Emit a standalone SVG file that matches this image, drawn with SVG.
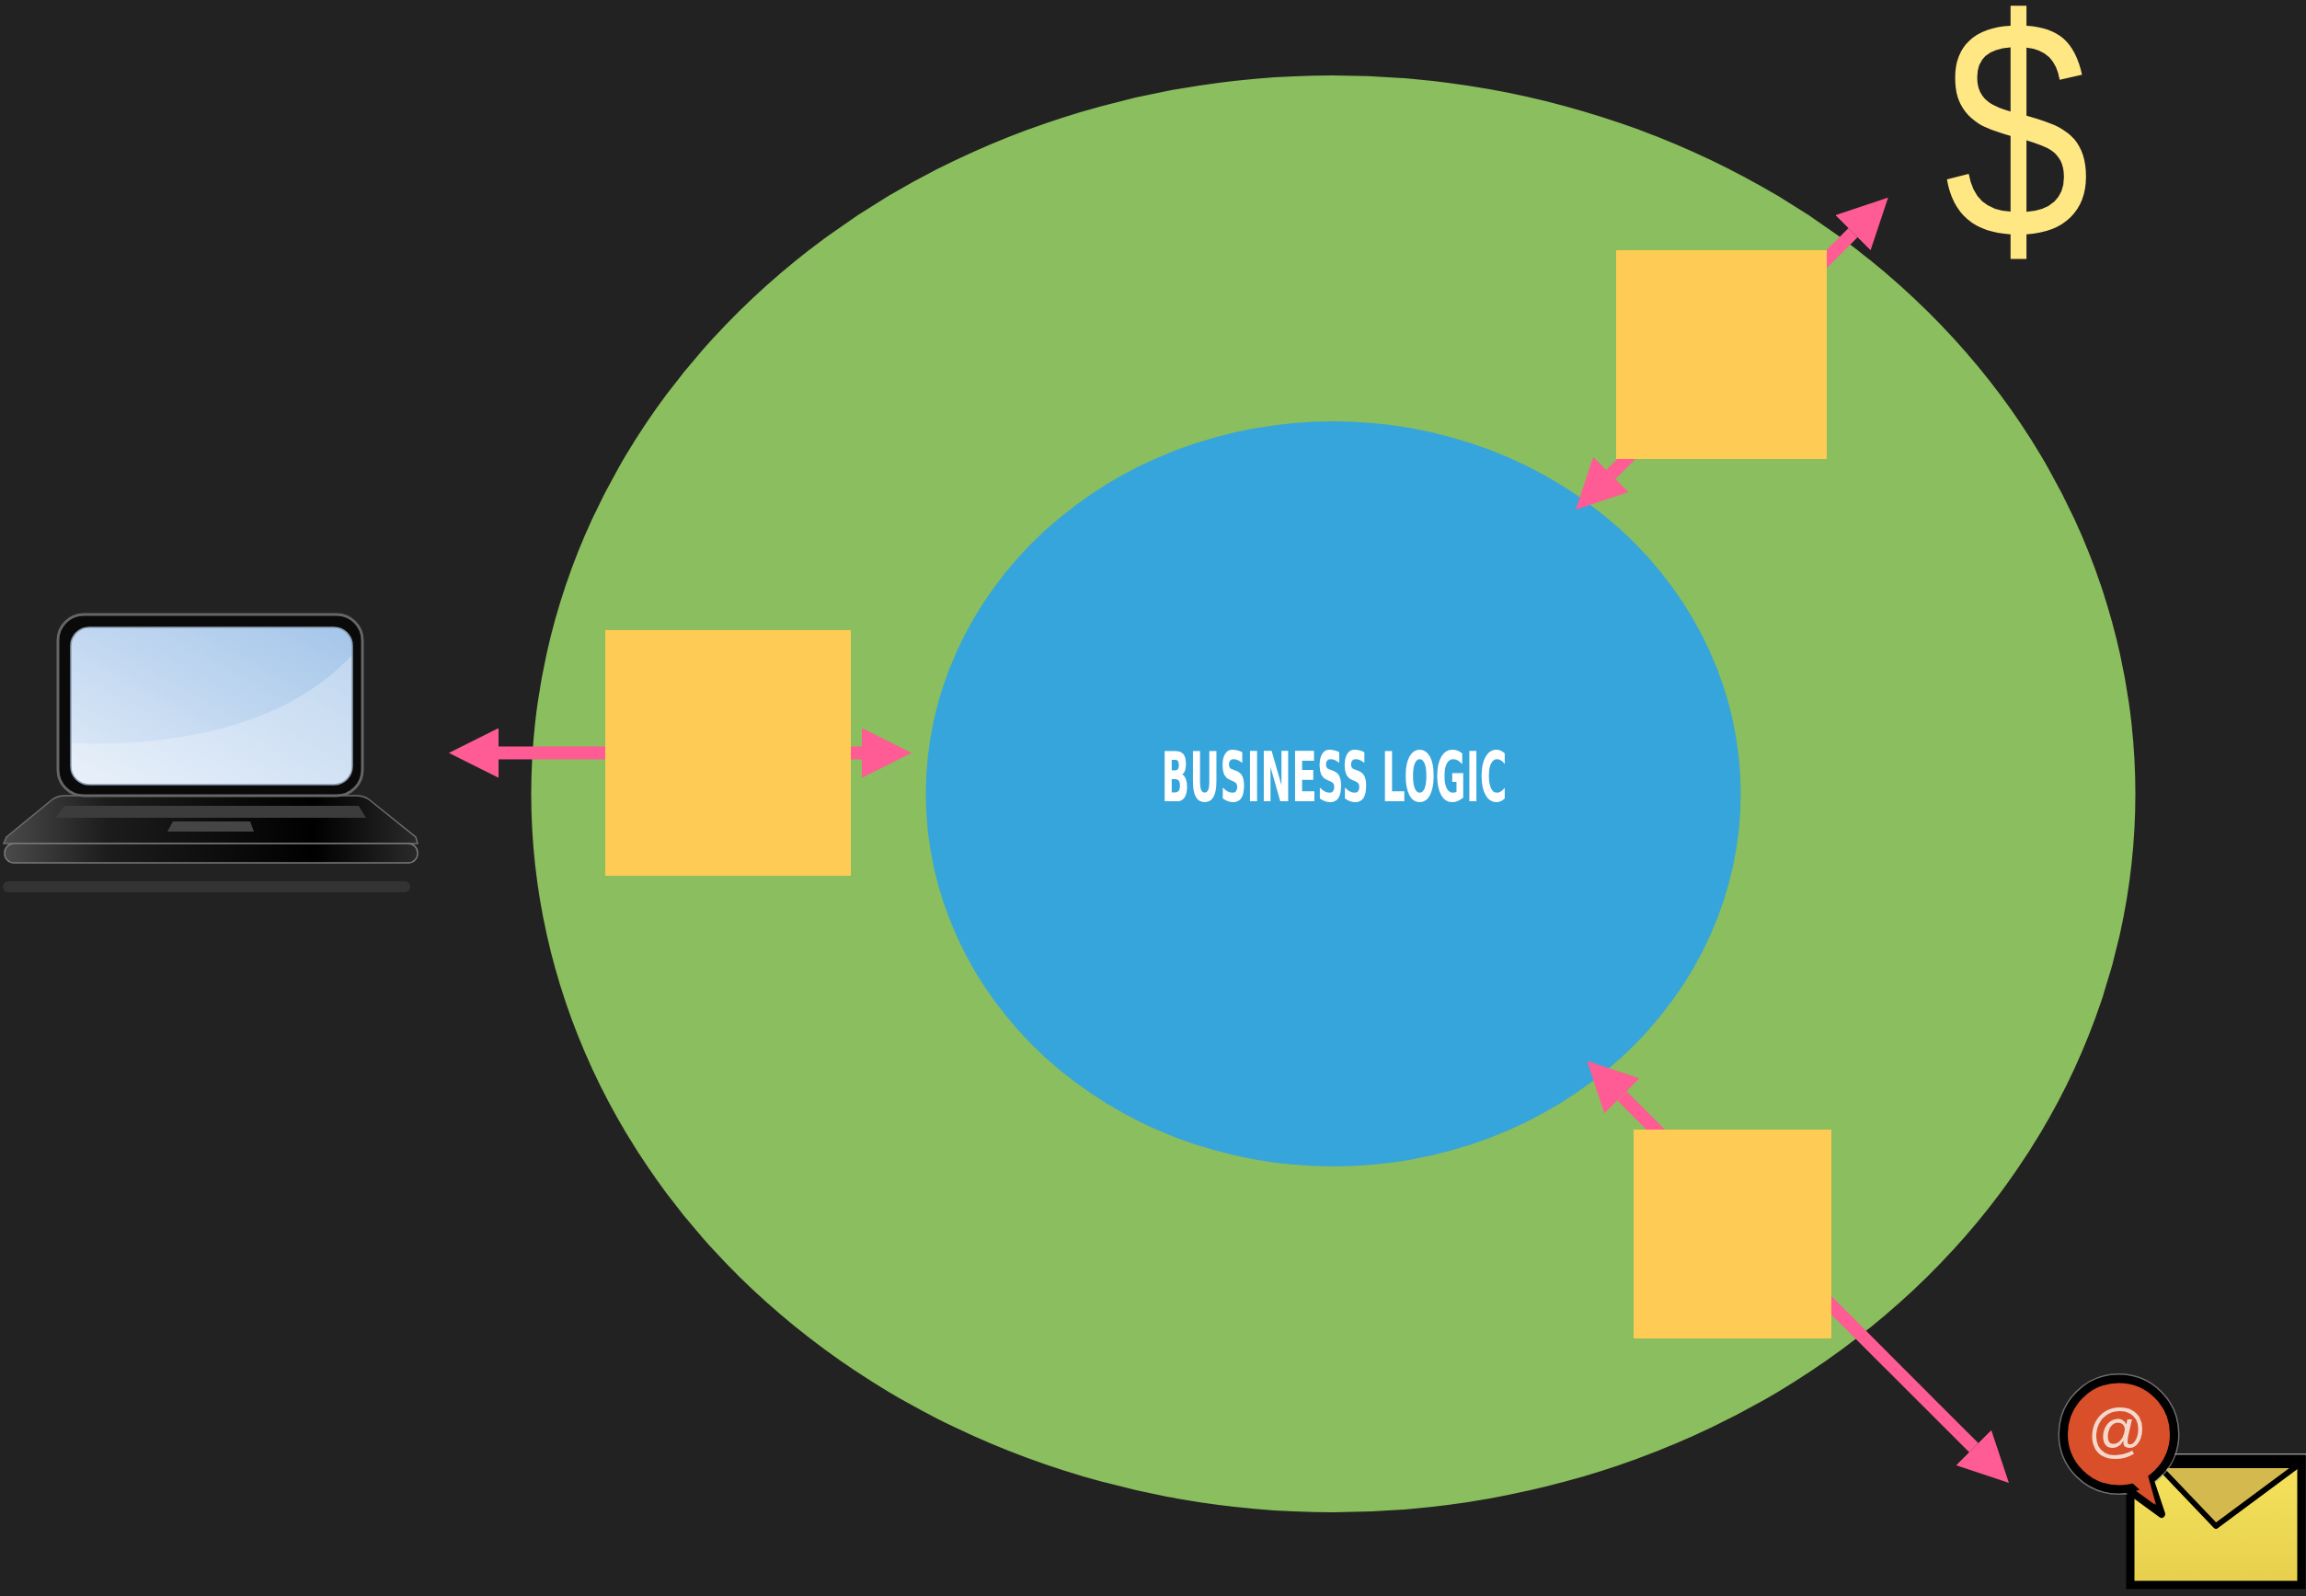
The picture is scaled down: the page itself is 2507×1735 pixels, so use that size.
<svg xmlns="http://www.w3.org/2000/svg" width="2507" height="1735" viewBox="0 0 2507 1735">
  <style>
    .outer { fill: #8bbe5e; }
    .core { fill: #36a5db; }
    .adapter { fill: #fecb55; }
    .link { fill: none; stroke: #ff5b94; stroke-width: 14; marker-start: url(#head); marker-end: url(#head); }
    .label { font-family: "DejaVu Sans Condensed", "Liberation Sans", sans-serif; font-weight: bold; fill: #ffffff; }
  </style>
  <defs>
    <marker id="head" viewBox="0 0 54 54" refX="0" refY="27" markerWidth="54" markerHeight="54" markerUnits="userSpaceOnUse" orient="auto-start-reverse">
      <path d="M0,0 L54,27 L0,54 Z" fill="#ff5b94"/>
    </marker>
    <linearGradient id="screenFill" x1="0" y1="1" x2="1" y2="0">
      <stop offset="0" stop-color="#e0ebf8"/>
      <stop offset="0.6" stop-color="#bcd4ef"/>
      <stop offset="1" stop-color="#a4c6ea"/>
    </linearGradient>
    <linearGradient id="baseFill" x1="0" y1="0" x2="1" y2="0">
      <stop offset="0" stop-color="#4a4a4a"/>
      <stop offset="0.25" stop-color="#1c1c1c"/>
      <stop offset="0.75" stop-color="#000000"/>
      <stop offset="1" stop-color="#2a2a2a"/>
    </linearGradient>
    <linearGradient id="envFill" x1="0" y1="0" x2="0" y2="1">
      <stop offset="0" stop-color="#f6e35c"/>
      <stop offset="1" stop-color="#e6cf4c"/>
    </linearGradient>
    <clipPath id="screenClip">
      <rect x="77" y="682" width="306" height="171" rx="20"/>
    </clipPath>
  </defs>

  <rect width="2507" height="1735" fill="#222222"/>

  <!-- layers -->
  <g id="infrastructure">
    <ellipse class="outer" cx="1449.5" cy="863" rx="872" ry="781"/>
  </g>
  <g id="business-logic">
    <ellipse class="core" cx="1449.5" cy="863" rx="443" ry="405"/>
    <text class="label" x="1450.5" y="871" font-size="74" text-anchor="middle" textLength="376" lengthAdjust="spacingAndGlyphs">BUSINESS LOGIC</text>
  </g>

  <!-- connectors -->
  <g id="connectors">
    <path class="link" d="M542,818.5 L937,818.5"/>
    <path class="link" d="M1751.3,515.8 L2014.5,253"/>
    <path class="link" d="M1763.5,1191.5 L2145.8,1573.8"/>
  </g>

  <!-- adapters -->
  <g id="adapter-ui">
    <rect class="adapter" x="658" y="685" width="267" height="267"/>
  </g>
  <g id="adapter-payment">
    <rect class="adapter" x="1757" y="272" width="229" height="227"/>
  </g>
  <g id="adapter-mail">
    <rect class="adapter" x="1776" y="1228" width="215" height="227"/>
  </g>

  <!-- laptop -->
  <g id="laptop">
    <rect x="3" y="958" width="443" height="12" rx="6" fill="#333333"/>
    <path d="M70,865 L388,865 Q395,865 401,869 L452,910 L454,917 L4,917 L7,910 L57,869 Q63,865 70,865 Z" fill="url(#baseFill)" stroke="#6e6e6e" stroke-width="1.5"/>
    <polygon points="70,876 390,876 398,889 60,889" fill="#3c3c3c"/>
    <polygon points="188,893 272,893 276,904 182,904" fill="#454545"/>
    <rect x="5" y="917" width="449" height="21" rx="10" fill="url(#baseFill)" stroke="#7a7a7a" stroke-width="1.5"/>
    <rect x="63" y="668" width="331" height="197" rx="28" fill="#0a0a0a" stroke="#666666" stroke-width="3"/>
    <rect x="77" y="682" width="306" height="171" rx="20" fill="url(#screenFill)"/>
    <path d="M77,808 C190,812 310,790 383,712 L383,853 L77,853 Z" fill="#ffffff" opacity="0.28" clip-path="url(#screenClip)"/>
    <rect x="77" y="682" width="306" height="171" rx="20" fill="none" stroke="#8a9bb0" stroke-width="1.5"/>
  </g>

  <!-- payment -->
  <g id="payment">
    <text transform="translate(2193 258) scale(0.84 1)" x="0" y="0" font-family="Liberation Sans, Arial, sans-serif" font-size="340" fill="#ffe784" text-anchor="middle">$</text>
  </g>

  <!-- email -->
  <g id="email">
    <line x1="2362" y1="1581" x2="2507" y2="1581" stroke="#bdbdbd" stroke-width="2" opacity="0.7"/>
    <rect x="2316" y="1586" width="186" height="137" fill="url(#envFill)" stroke="#000000" stroke-width="9"/>
    <polygon points="2346,1593 2409,1659 2498,1593" fill="#d4b94f" stroke="#000000" stroke-width="6" stroke-linejoin="round"/>
    <circle cx="2303.5" cy="1559" r="65" fill="none" stroke="#a0a0a0" stroke-width="2" opacity="0.6"/>
    <polygon points="2313,1619 2350,1646 2336,1604" fill="#d84f2a" stroke="#000000" stroke-width="8" stroke-linejoin="round"/>
    <circle cx="2303.5" cy="1559" r="60" fill="#d84f2a" stroke="#000000" stroke-width="9"/>
    <polygon points="2318,1612 2344,1636 2334,1600" fill="#d84f2a"/>
    <text x="2302" y="1577" font-family="Liberation Sans, Arial, sans-serif" font-size="64" fill="#f4d8cc" text-anchor="middle">@</text>
  </g>
</svg>
